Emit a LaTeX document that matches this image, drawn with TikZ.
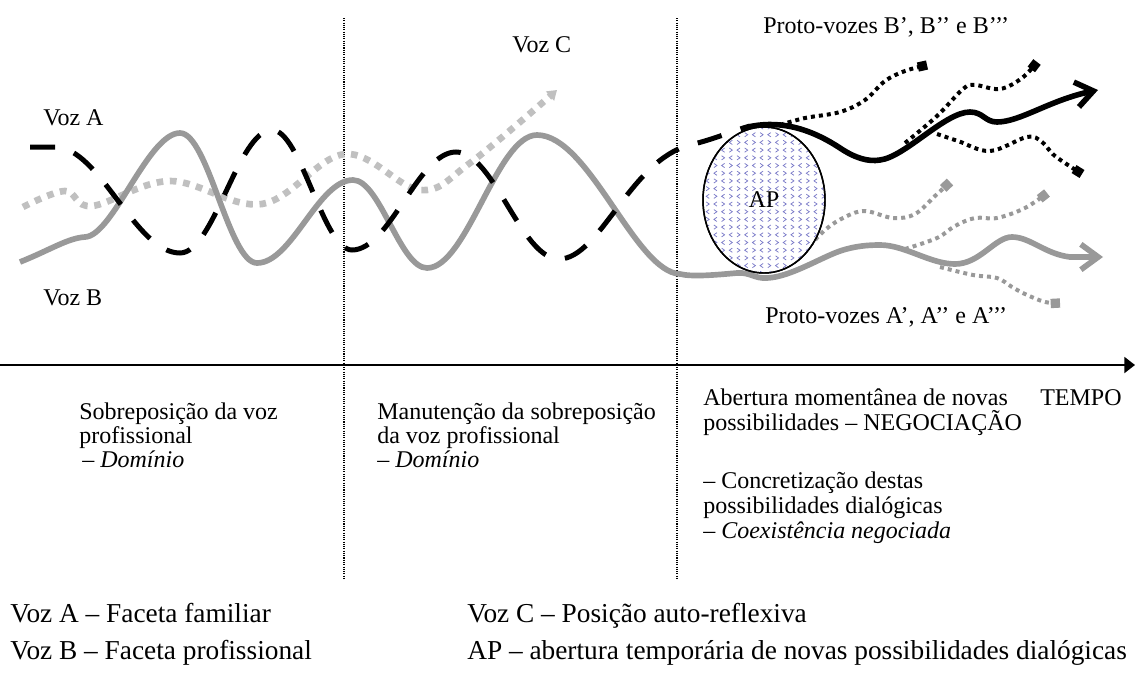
\documentclass[tikz,border=0pt]{standalone}
\usepackage{fontspec}
\setmainfont{Liberation Serif}
\usetikzlibrary{arrows.meta,shapes.geometric}

\definecolor{profgray}{HTML}{999999}
\definecolor{reflgray}{HTML}{C0C0C0}
\definecolor{apblue}{HTML}{7A7AC8}

\tikzset{
  lbl/.style={anchor=base west, inner sep=0pt, font=\fontsize{18}{20}\selectfont},
  legend/.style={anchor=base west, inner sep=0pt, font=\fontsize{20.5}{24}\selectfont},
  phaseline/.style={line width=0.8pt, dash pattern=on 0.8pt off 0.9pt},
  timeaxis/.style={line width=1.5pt, -{Triangle[length=8pt,width=12pt]}},
  vozA/.style={line width=3.75pt, dash pattern=on 18.75pt off 15pt},
  vozAcont/.style={line width=4.2pt, -{Straight Barb[length=13pt,width=19pt]}},
  vozB/.style={profgray, line width=4.25pt, -{Straight Barb[length=13pt,width=19pt]}},
  vozC/.style={reflgray, line width=5pt, dash pattern=on 5pt off 5pt, -{Triangle[length=7pt,width=9pt]}},
  protoB/.style={line width=3pt, dash pattern=on 3pt off 3pt, -{Square[length=7pt,width=7pt]}},
  protoA/.style={profgray, line width=3pt, dash pattern=on 3pt off 3pt, -{Square[length=7pt,width=7pt]}},
  apmark/.style={apblue, line width=0.55pt},
}

\begin{document}
\begin{tikzpicture}[x=0.75pt,y=-0.75pt]
\useasboundingbox (0,0) rectangle (1135,672);

% phase separators
\coordinate (s1t) at (344,18);  \coordinate (s1b) at (344,580);
\coordinate (s2t) at (677,18);  \coordinate (s2b) at (677,580);
\draw[phaseline] (s1t) -- (s1b);
\draw[phaseline] (s2t) -- (s2b);

% time axis
\coordinate (t0) at (0,365);
\coordinate (t1) at (1135,365);
\draw[timeaxis] (t0) -- (t1);

% Voz C (self-reflexive position)
\draw[vozC] plot[smooth, tension=0.6] coordinates {
  (23,207) (65,191) (92,206) (170,181) (262,204) (345,154) (420,190) (470,163) (557,90)};

% Voz B (professional facet)
\draw[vozB] (20,262) .. controls (50,250) and (68,238) .. (85,237)
  .. controls (113,236) and (148,133) .. (180,133)
  .. controls (208,133) and (229,263) .. (257,263)
  .. controls (292,263) and (318,180) .. (353,180)
  .. controls (380,180) and (400,268) .. (427,268)
  .. controls (467,268) and (497,135) .. (537,135)
  .. controls (589,135) and (635,272) .. (680,274)
  .. controls (692,277) and (715,275) .. (737,273)
  .. controls (750,272) and (755,279) .. (767,278)
  .. controls (790,277) and (820,258) .. (840,251)
  .. controls (855,246) and (868,245) .. (880,245)
  .. controls (905,245) and (930,264) .. (955,264)
  .. controls (980,264) and (995,237) .. (1012,237)
  .. controls (1030,237) and (1045,254) .. (1070,257)
  -- (1103,257);

% Voz A (familiar facet)
\draw[vozA] (30,147) -- (55,147)
  .. controls (100,147) and (135,253) .. (180,253)
  .. controls (214,253) and (238,130) .. (272,130)
  .. controls (301,130) and (323,250) .. (352,250)
  .. controls (390,250) and (418,152) .. (456,152)
  .. controls (494,152) and (521,259) .. (559,259)
  .. controls (600,259) and (630,160) .. (690,145)
  .. controls (715,139) and (735,130) .. (750,126);

% proto-voices A', A'', A'''
\draw[protoA] plot[smooth, tension=0.6] coordinates {
  (777,268) (800,255) (825,230) (845,217) (865,211) (893,218) (915,214) (935,196) (950,182)};
\draw[protoA] plot[smooth, tension=0.6] coordinates {
  (905,249) (937,238) (955,226) (975,218) (997,218) (1025,208) (1047,193)};
\draw[protoA] plot[smooth, tension=0.6] coordinates {
  (940,267) (973,275) (997,278) (1012,287) (1025,294) (1045,302) (1060,303)};

% proto-voices B', B'', B'''
\draw[protoB] plot[smooth, tension=0.6] coordinates {
  (780,125) (805,118) (840,112) (865,100) (885,81) (905,71) (927,65)};
\draw[protoB] plot[smooth, tension=0.6] coordinates {
  (905,143) (937,116) (963,89) (975,85) (1000,89) (1022,78) (1037,62)};
\draw[protoB] plot[smooth, tension=0.6] coordinates {
  (937,134) (958,141) (990,151) (1027,137) (1042,142) (1055,156) (1082,174)};

% Voz A continuing as a solid line
\draw[vozAcont] (748,127) .. controls (775,121) and (805,125) .. (840,148)
  .. controls (855,158) and (868,162) .. (880,160)
  .. controls (905,157) and (945,112) .. (970,112)
  .. controls (983,112) and (985,122) .. (997,122)
  .. controls (1020,122) and (1050,100) .. (1098,90);

% AP: temporary opening
\node[draw, ellipse, fill=white, line width=1.1pt, inner sep=0pt,
      minimum width=91.5pt, minimum height=109.5pt] (APbg) at (764,200) {};
\begin{scope}
  \clip (764,200) ellipse [x radius=45pt, y radius=54pt];
  \foreach \j in {0,...,19}{
    \foreach \i in {0,...,8}{
      \draw[apmark] ({700+15.4*\i+7.7*mod(\j,2)},{127+7.7*\j})
        +(1.5,-2.1) -- +(-1.5,0) -- +(1.5,2.1);
      \draw[apmark] ({707.7+15.4*\i-7.7*mod(\j,2)},{127+7.7*\j})
        +(-1.5,-2.1) -- +(1.5,0) -- +(-1.5,2.1);
    }
  }
\end{scope}
\node[draw, ellipse, line width=1.1pt, inner sep=0pt,
      minimum width=91.5pt, minimum height=109.5pt,
      font=\fontsize{18}{20}\selectfont] (AP) at (764,200) {AP};

% voice labels
\node[lbl] (labA) at (43,125) {Voz A};
\node[lbl] (labB) at (43,305) {Voz B};
\node[lbl] (labC) at (512,52) {Voz C};
\node[lbl] (labPB) at (763,33) {Proto-vozes B’, B’’ e B’’’};
\node[lbl] (labPA) at (765,323) {Proto-vozes A’, A’’ e A’’’};
\node[lbl] (tempo) at (1040,405) {TEMPO};

% phase descriptions
\node[lbl] (p1a) at (79,419) {Sobreposição da voz};
\node[lbl] (p1b) at (79,443) {profissional};
\node[lbl] (p1c) at (82,467) {– \textit{Domínio}};

\node[lbl] (p2a) at (377,419) {Manutenção da sobreposição};
\node[lbl] (p2b) at (377,443) {da voz profissional};
\node[lbl] (p2c) at (377,467) {– \textit{Domínio}};

\node[lbl] (p3a) at (703,405) {Abertura momentânea de novas};
\node[lbl] (p3b) at (703,430) {possibilidades – NEGOCIAÇÃO};
\node[lbl] (p3c) at (703,488) {– Concretização destas};
\node[lbl] (p3d) at (703,513) {possibilidades dialógicas};
\node[lbl] (p3e) at (703,538) {– \textit{Coexistência negociada}};

% legend
\node[legend] (legA) at (10,622) {Voz A – Faceta familiar};
\node[legend] (legB) at (10,659) {Voz B – Faceta profissional};
\node[legend] (legC) at (467,622) {Voz C – Posição auto-reflexiva};
\node[legend] (legAP) at (467,659) {AP – abertura temporária de novas possibilidades dialógicas};
\end{tikzpicture}
\end{document}
